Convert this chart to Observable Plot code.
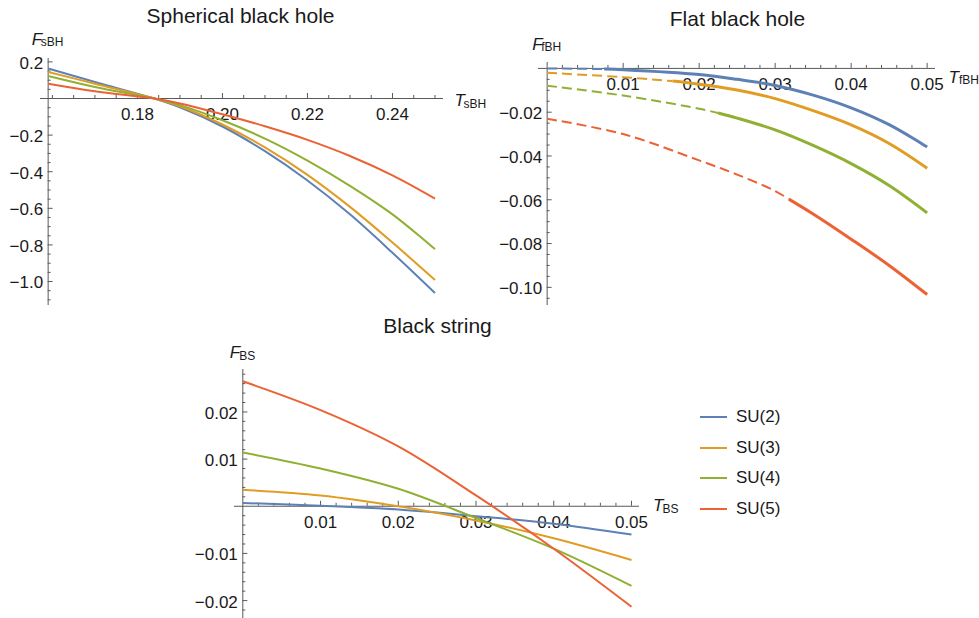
<!DOCTYPE html>
<html><head><meta charset="utf-8">
<script src="https://cdn.jsdelivr.net/npm/d3@7"></script>
<script src="https://cdn.jsdelivr.net/npm/@observablehq/plot@0.6"></script>
<style>
body{margin:0;background:#fff;}
#root{position:relative;width:979px;height:618px;overflow:hidden;font-family:"Liberation Sans",Arial,sans-serif;}
.panel{position:absolute;}
.panel svg{overflow:visible;display:block;}
</style></head><body><div id="root"></div>
<script>
// ---------- series ----------
const seriesNames = ["SU(2)", "SU(3)", "SU(4)", "SU(5)"];
const seriesColors = ["#5E81B5", "#E19C24", "#8FB032", "#EB6235"];

// Spherical black hole
const sphT   = [0.159, 0.17, 0.184, 0.19, 0.20, 0.21, 0.22, 0.23, 0.24, 0.25];
const sphSU2 = [0.164, 0.090, 0, -0.048, -0.153, -0.288, -0.448, -0.633, -0.843, -1.063];
const sphSU3 = [0.145, 0.081, 0, -0.042, -0.142, -0.267, -0.417, -0.592, -0.787, -0.992];
const sphSU4 = [0.123, 0.063, 0, -0.036, -0.119, -0.219, -0.339, -0.477, -0.633, -0.823];
const sphSU5 = [0.081, 0.040, 0, -0.027, -0.086, -0.152, -0.226, -0.314, -0.420, -0.547];

// Flat black hole (dashed below the switch temperature, solid above)
const flatT   = [0, 0.01, 0.02, 0.025, 0.03, 0.035, 0.04, 0.045, 0.05];
const flatSU2 = [0, -0.0006, -0.0028, -0.0050, -0.0078, -0.0122, -0.0180, -0.0257, -0.0359];
const flatSU3 = [-0.0020, -0.0040, -0.0072, -0.0099, -0.0138, -0.0193, -0.0258, -0.0343, -0.0456];
const flatSU4 = [-0.0079, -0.0124, -0.0184, -0.0227, -0.0281, -0.0352, -0.0435, -0.0535, -0.0660];
const flatSU5 = [-0.0230, -0.0300, -0.0420, -0.0485, -0.0560, -0.0665, -0.0780, -0.0900, -0.1033];
const flatSwitchT = [0.0075, 0.0165, 0.0225, 0.0318];
const flatSwitchF = [-0.0003, -0.0058, -0.0204, -0.0597];

// Black string
const bsT   = [0, 0.01, 0.02, 0.03, 0.04, 0.05];
const bsSU2 = [0.0007, 0.0001, -0.0007, -0.0021, -0.0037, -0.0060];
const bsSU3 = [0.0035, 0.0023, 0.0000, -0.0030, -0.0068, -0.0114];
const bsSU4 = [0.0114, 0.0080, 0.0037, -0.0025, -0.0090, -0.0169];
const bsSU5 = [0.0265, 0.0204, 0.0127, 0.0023, -0.0090, -0.0213];

// ---------- ticks ----------
const sphXMajor = [0.18, 0.20, 0.22, 0.24];
const sphXLabels = ["0.18", "0.20", "0.22", "0.24"];
const sphYMajor = [0.2, -0.2, -0.4, -0.6, -0.8, -1.0];
const sphYLabels = ["0.2", "\u22120.2", "\u22120.4", "\u22120.6", "\u22120.8", "\u22121.0"];

const flatXMajor = [0.01, 0.02, 0.03, 0.04, 0.05];
const flatXLabels = ["0.01", "0.02", "0.03", "0.04", "0.05"];
const flatYMajor = [-0.02, -0.04, -0.06, -0.08, -0.10];
const flatYLabels = ["\u22120.02", "\u22120.04", "\u22120.06", "\u22120.08", "\u22120.10"];

const bsXMajor = [0.01, 0.02, 0.03, 0.04, 0.05];
const bsXLabels = ["0.01", "0.02", "0.03", "0.04", "0.05"];
const bsYMajor = [0.02, 0.01, -0.01, -0.02];
const bsYLabels = ["0.02", "0.01", "\u22120.01", "\u22120.02"];

function steps(i0, i1, step, skipEvery) {
  return d3.range(i0, i1 + 1).filter(i => i % skipEvery !== 0).map(i => +(i * step).toFixed(6));
}
const sphXMinor = d3.range(32, 51).filter(i => i % 4 !== 0 || i === 32).map(i => +(i * 0.005).toFixed(4));
const sphYMinor = steps(-22, 4, 0.05, 4);
const flatXMinor = steps(1, 25, 0.002, 5);
const flatYMinor = steps(-21, -1, 0.005, 4);
const bsXMinor = steps(1, 25, 0.002, 5);
const bsYMinor = steps(-11, 14, 0.002, 5);

// ---------- helpers ----------
function rowsOf(T, cols) {
  const rows = [];
  cols.forEach((F, k) => T.forEach((t, i) => rows.push({T: t, F: F[i], s: seriesNames[k]})));
  return rows;
}
const ink = "#1a1a1a", axisCol = "#5a5a5a";
const tickFont = 17;

function panel(cfg) {
  const {left, top, width, height, mt, mr, mb, ml, xDomain, yDomain, x0,
         xMajor, xLabels, xMinor, yMajor, yLabels, yMinor, lineMarks,
         title, tdx, tdy, fSub, fdx, fdy, fsdx, fsdy, tSub, Tdx, Tdy, Tsdx, Tsdy} = cfg;
  const pxX = (xDomain[1] - xDomain[0]) / (width - ml - mr);
  const pxY = (yDomain[1] - yDomain[0]) / (height - mt - mb);
  const yTop = yDomain[1], xEnd = xDomain[1];
  const marks = [
    Plot.ruleY([0], {stroke: axisCol, strokeWidth: 1}),
    Plot.ruleX([x0], {stroke: axisCol, strokeWidth: 1}),
    Plot.ruleX(xMajor, {x: d => d, y1: 0, y2: 5 * pxY, stroke: axisCol}),
    Plot.ruleX(xMinor, {x: d => d, y1: 0, y2: 3 * pxY, stroke: axisCol}),
    Plot.ruleY(yMajor, {y: d => d, x1: x0, x2: x0 + 5 * pxX, stroke: axisCol}),
    Plot.ruleY(yMinor, {y: d => d, x1: x0, x2: x0 + 3 * pxX, stroke: axisCol}),
    Plot.text(xMajor, {x: d => d, y: () => 0, text: (d, i) => xLabels[i], dy: 21.5, lineAnchor: "bottom", textAnchor: "middle", fill: ink}),
    Plot.text(yMajor, {x: () => x0, y: d => d, text: (d, i) => yLabels[i], dx: -5, dy: 1.5, lineAnchor: "middle", textAnchor: "end", fill: ink}),
    ...lineMarks,
    Plot.text([title], {frameAnchor: "top", text: d => d, dx: tdx, dy: tdy, lineAnchor: "bottom", textAnchor: "middle", fontSize: 21, fill: ink}),
    Plot.text(["F"], {x: () => x0, y: () => yTop, text: d => d, dx: fdx, dy: fdy, lineAnchor: "bottom", textAnchor: "start", fontStyle: "italic", fontSize: 17, fill: ink}),
    Plot.text([fSub], {x: () => x0, y: () => yTop, text: d => d, dx: fsdx, dy: fsdy, lineAnchor: "bottom", textAnchor: "start", fontSize: 12, fill: ink}),
    Plot.text(["T"], {x: () => xEnd, y: () => 0, text: d => d, dx: Tdx, dy: Tdy, lineAnchor: "bottom", textAnchor: "start", fontStyle: "italic", fontSize: 17, fill: ink}),
    Plot.text([tSub], {x: () => xEnd, y: () => 0, text: d => d, dx: Tsdx, dy: Tsdy, lineAnchor: "bottom", textAnchor: "start", fontSize: 12, fill: ink})
  ];
  const svg = Plot.plot({
    width, height, marginTop: mt, marginRight: mr, marginBottom: mb, marginLeft: ml,
    x: {domain: xDomain, axis: null},
    y: {domain: yDomain, axis: null},
    color: {domain: seriesNames, range: seriesColors},
    style: {fontFamily: "'Liberation Sans', Arial, sans-serif", fontSize: tickFont + "px", overflow: "visible", background: "none"},
    marks
  });
  const div = document.createElement("div");
  div.className = "panel";
  div.style.left = left + "px";
  div.style.top = top + "px";
  div.appendChild(svg);
  document.getElementById("root").appendChild(div);
}

// ---------- Spherical ----------
const sphRows = rowsOf(sphT, [sphSU2, sphSU3, sphSU4, sphSU5]);
panel({
  left: 0, top: 0, width: 500, height: 318, mt: 58, mr: 57, mb: 13, ml: 40,
  xDomain: [0.1572, 0.252], yDomain: [-1.131, 0.2186], x0: 0.159,
  xMajor: sphXMajor, xLabels: sphXLabels, xMinor: sphXMinor,
  yMajor: sphYMajor, yLabels: sphYLabels, yMinor: sphYMinor,
  lineMarks: [Plot.line(sphRows, {x: "T", y: "F", z: "s", stroke: "s", strokeWidth: 2, curve: "catmull-rom", strokeLinecap: "butt"})],
  title: "Spherical black hole", tdx: -1.5, tdy: -36,
  fSub: "sBH", fdx: -16.5, fdy: -13.7, fsdx: -7.5, fsdy: -12.3,
  tSub: "sBH", Tdx: 11, Tdy: 7.8, Tsdx: 20, Tsdy: 9
});

// ---------- Flat ----------
const flatCols = [flatSU2, flatSU3, flatSU4, flatSU5];
const flatDashed = [], flatSolid = [];
flatCols.forEach((F, k) => {
  const ts = flatSwitchT[k], fs = flatSwitchF[k];
  flatT.forEach((t, i) => { if (t < ts) flatDashed.push({T: t, F: F[i], s: seriesNames[k]}); });
  flatDashed.push({T: ts, F: fs, s: seriesNames[k]});
  flatSolid.push({T: ts, F: fs, s: seriesNames[k]});
  flatT.forEach((t, i) => { if (t > ts) flatSolid.push({T: t, F: F[i], s: seriesNames[k]}); });
});
panel({
  left: 490, top: 0, width: 489, height: 318, mt: 62, mr: 44, mb: 13, ml: 48,
  xDomain: [-0.00114, 0.0511], yDomain: [-0.1083, 0.0027], x0: 0,
  xMajor: flatXMajor, xLabels: flatXLabels, xMinor: flatXMinor,
  yMajor: flatYMajor, yLabels: flatYLabels, yMinor: flatYMinor,
  lineMarks: [
    Plot.line(flatDashed, {x: "T", y: "F", z: "s", stroke: "s", strokeWidth: 2, strokeDasharray: "10,5", curve: "catmull-rom", strokeLinecap: "butt"}),
    Plot.line(flatSolid, {x: "T", y: "F", z: "s", stroke: "s", strokeWidth: 3, curve: "catmull-rom", strokeLinecap: "butt"})
  ],
  title: "Flat black hole", tdx: 0.5, tdy: -37,
  fSub: "fBH", fdx: -15, fdy: -13, fsdx: -6, fsdy: -12,
  tSub: "fBH", Tdx: 13, Tdy: 14.4, Tsdx: 23.5, Tsdy: 15.6
});

// ---------- Black string ----------
const bsRows = rowsOf(bsT, [bsSU2, bsSU3, bsSU4, bsSU5]);
panel({
  left: 180, top: 310, width: 500, height: 308, mt: 59, mr: 41, mb: 0, ml: 54,
  xDomain: [-0.00107, 0.05103], yDomain: [-0.0238, 0.029], x0: 0,
  xMajor: bsXMajor, xLabels: bsXLabels, xMinor: bsXMinor,
  yMajor: bsYMajor, yLabels: bsYLabels, yMinor: bsYMinor,
  lineMarks: [Plot.line(bsRows, {x: "T", y: "F", z: "s", stroke: "s", strokeWidth: 2, curve: "catmull-rom", strokeLinecap: "butt"})],
  title: "Black string", tdx: 0.5, tdy: -37,
  fSub: "BS", fdx: -13, fdy: -11.5, fsdx: -3.5, fsdy: -10,
  tSub: "BS", Tdx: 13.5, Tdy: 5, Tsdx: 23, Tsdy: 6.5
});

// ---------- Legend ----------
const root = document.getElementById("root");
seriesNames.forEach((name, i) => {
  const row = document.createElement("div");
  row.style.cssText = `position:absolute;left:700px;top:${416.7 + i * 30.8 - 10}px;height:20px;display:flex;align-items:center;`;
  row.innerHTML = `<svg width="27" height="20" style="display:block"><line x1="0" x2="27" y1="10" y2="10" stroke="${seriesColors[i]}" stroke-width="2"/></svg><span style="margin-left:9px;font-size:17px;color:${ink};line-height:20px">${name}</span>`;
  root.appendChild(row);
});
</script></body></html>
